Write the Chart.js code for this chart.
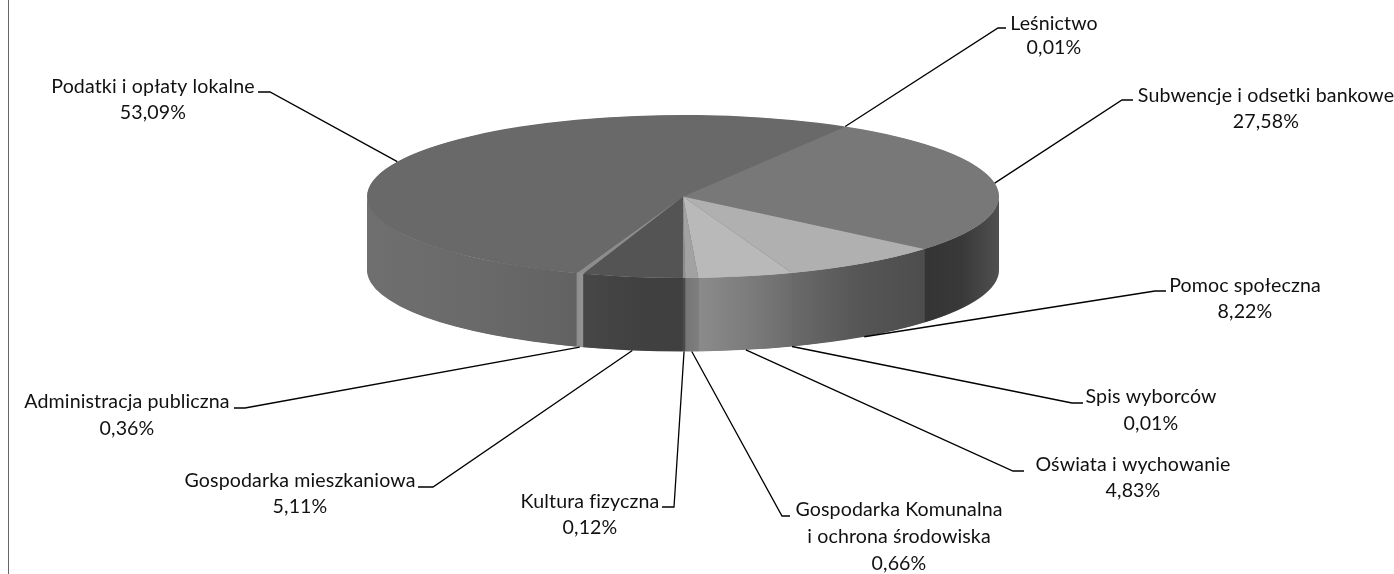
<!DOCTYPE html>
<html lang="pl">
<head>
<meta charset="utf-8">
<style>html,body{margin:0;padding:0;background:#fff}canvas{display:block}</style>
<script src="https://cdn.jsdelivr.net/npm/chart.js@4"></script>
</head>
<body>
<canvas id="c" width="1394" height="574"></canvas>
<script>
const categories = ['Subwencje i odsetki bankowe','Pomoc społeczna','Spis wyborców','Oświata i wychowanie','Gospodarka Komunalna i ochrona środowiska','Kultura fizyczna','Gospodarka mieszkaniowa','Administracja publiczna','Podatki i opłaty lokalne','Leśnictwo'];
const shares = [27.58,8.22,0.01,4.83,0.66,0.12,5.11,0.36,53.09,0.01];

const topShades = ['#787878','#b0b0b0','#b0b0b0','#b9b9b9','#a2a2a2','#8e8e8e','#545454','#8c8c8c','#696969','#696969'];
const sideShades = [
  ['#505050','#393939','#343434'],
  ['#4d4d4d','#565656','#6a6a6a'],
  ['#6a6a6a','#6a6a6a'],
  ['#6c6c6c','#7d7d7d','#8b8b8b'],
  ['#7e7e7e','#767676'],
  ['#4a4a4a','#4a4a4a'],
  ['#3f3f3f','#414141','#474747'],
  ['#949494','#8c8c8c'],
  ['#626262','#6a6a6a','#6f6f6f'],
  ['#696969','#696969']
];
/* label layout: text centre x, first line middle y, line gap, elbow, text-side end of leader */
const labelLayout = [
  {cx:1266,y:96,gap:26,elbow:[1122,100],end:[1133,100]},
  {cx:1245,y:286,gap:26,elbow:[1155,291],end:[1166,291]},
  {cx:1151,y:397,gap:27,elbow:[1072,403],end:[1083,403]},
  {cx:1133,y:465,gap:26,elbow:[1013,471],end:[1024,471]},
  {cx:899,y:510,gap:27,elbow:[782,516],end:[790,516],breakAfter:'Komunalna'},
  {cx:590,y:502,gap:26,elbow:[674,507],end:[662,507]},
  {cx:300,y:481,gap:26,elbow:[433,487],end:[418,487]},
  {cx:127,y:402,gap:27,elbow:[245,408],end:[234,408]},
  {cx:153,y:87,gap:26,elbow:[270,92],end:[258,92]},
  {cx:1054,y:24,gap:24,elbow:[998,28],end:[1006,28]}
];
const PIE = {x:683, y:196.5, rx:316, ry:81.5, depth:73.5};
const startRotation = 30.9;
const LABEL_FONT = '19.6px Lato, Carlito, sans-serif';

const pie3d = {
  id:'pie3d',
  beforeDraw(chart){
    const {ctx}=chart;
    ctx.save();
    ctx.strokeStyle='#666';ctx.lineWidth=1;
    ctx.beginPath();ctx.moveTo(8.5,0);ctx.lineTo(8.5,574);ctx.stroke();
    ctx.restore();
  },
  beforeDatasetsDraw(chart){
    const {ctx}=chart;
    const arcs=chart.getDatasetMeta(0).data;
    // base under the side wall, hides seams between wedges
    ctx.fillStyle='#5e5e5e';
    ctx.beginPath();
    ctx.ellipse(PIE.x,PIE.y,PIE.rx-0.4,PIE.ry,0,0,Math.PI);
    ctx.ellipse(PIE.x,PIE.y+PIE.depth-0.4,PIE.rx-0.4,PIE.ry,0,Math.PI,0,true);
    ctx.closePath();ctx.fill();
    arcs.forEach((arc,i)=>{
      const s=arc.startAngle, e=arc.endAngle;
      [[0,Math.PI],[2*Math.PI,3*Math.PI]].forEach(([lo,hi])=>{
        const a1=Math.max(s,lo), a2=Math.min(e,hi);
        if(a2<=a1) return;
        const x1=PIE.x+PIE.rx*Math.cos(a1), x2=PIE.x+PIE.rx*Math.cos(a2);
        const g=ctx.createLinearGradient(x1,0,x2===x1?x1+1:x2,0);
        const st=sideShades[i];
        st.forEach((c,k)=>g.addColorStop(k/(st.length-1),c));
        ctx.fillStyle=g;
        ctx.beginPath();
        ctx.ellipse(PIE.x,PIE.y,PIE.rx,PIE.ry,0,a1-lo,a2-lo);
        ctx.ellipse(PIE.x,PIE.y+PIE.depth,PIE.rx,PIE.ry,0,a2-lo,a1-lo,true);
        ctx.closePath();ctx.fill();
      });
    });
    // base for seams on the top face
    ctx.fillStyle='#6a6a6a';
    ctx.beginPath();ctx.ellipse(PIE.x,PIE.y,PIE.rx-0.5,PIE.ry-0.5,0,0,2*Math.PI);ctx.fill();
    // squash top face
    const a=arcs[0];
    ctx.save();
    ctx.translate(PIE.x,PIE.y);
    ctx.scale(PIE.rx/a.outerRadius,PIE.ry/a.outerRadius);
    ctx.translate(-a.x,-a.y);
  },
  afterDatasetsDraw(chart){
    const {ctx}=chart;
    ctx.restore();
    const arcs=chart.getDatasetMeta(0).data;
    ctx.save();
    ctx.font=LABEL_FONT;ctx.textAlign='center';ctx.textBaseline='middle';
    ctx.letterSpacing='0.12px';
    arcs.forEach((arc,i)=>{
      const L=labelLayout[i];
      const mid=(arc.startAngle+arc.endAngle)/2;
      const ax=PIE.x+PIE.rx*Math.cos(mid);
      let ay=PIE.y+PIE.ry*Math.sin(mid);
      if(Math.sin(mid)>0) ay+=PIE.depth;
      ctx.strokeStyle='#000';ctx.lineWidth=1.3;
      ctx.beginPath();ctx.moveTo(ax,ay);ctx.lineTo(L.elbow[0],L.elbow[1]);ctx.lineTo(L.end[0],L.end[1]);ctx.stroke();
      const name=categories[i];
      let lines=[name];
      if(L.breakAfter){const k=name.indexOf(L.breakAfter)+L.breakAfter.length;lines=[name.slice(0,k),name.slice(k+1)];}
      lines.push(shares[i].toFixed(2).replace('.',',')+'%');
      ctx.fillStyle='#111';
      lines.forEach((t,k)=>ctx.fillText(t,L.cx,L.y+k*L.gap));
    });
    ctx.restore();
  }
};

new Chart(document.getElementById('c'),{
  type:'pie',
  data:{labels:categories,datasets:[{data:shares,backgroundColor:topShades,borderWidth:0,hoverOffset:0}]},
  options:{
    responsive:false,animation:false,devicePixelRatio:1,rotation:startRotation,
    layout:{padding:0},
    events:[],
    plugins:{legend:{display:false},tooltip:{enabled:false},title:{display:false}}
  },
  plugins:[pie3d]
});
</script>
</body>
</html>
